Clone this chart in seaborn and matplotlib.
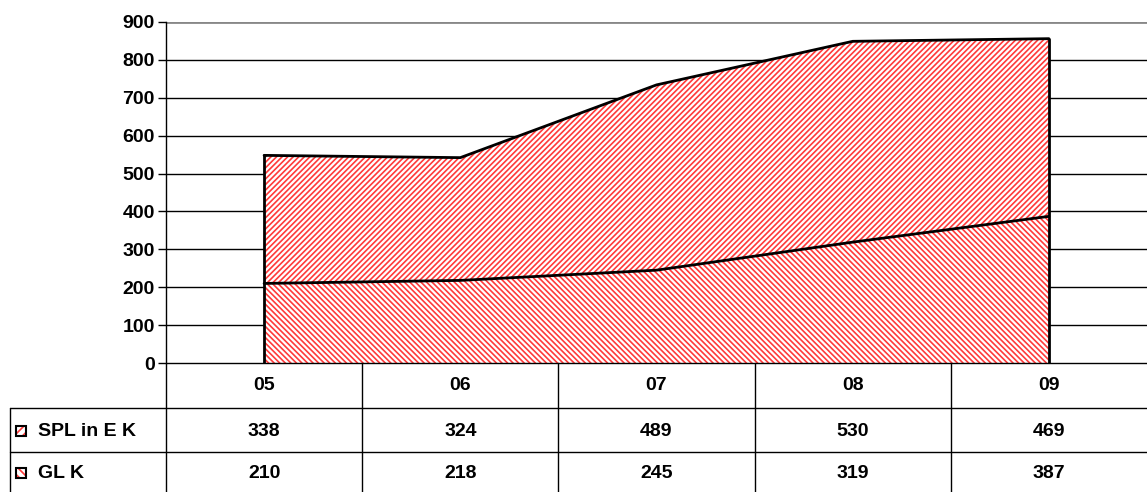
import numpy as np
import pandas as pd
import seaborn as sns
import matplotlib.pyplot as plt
from matplotlib.patches import Rectangle

years = ["05", "06", "07", "08", "09"]
spl_in_ek = [338, 324, 489, 530, 469]
gl_k = [210, 218, 245, 319, 387]
series_names = ["SPL in E K", "GL K"]

sns.set_style("white")
plt.rcParams['font.family'] = ['Liberation Sans', 'DejaVu Sans']
plt.rcParams['text.color'] = 'black'
plt.rcParams['ytick.color'] = 'black'
plt.rcParams['hatch.color'] = '#ff3a3a'
plt.rcParams['hatch.linewidth'] = 1.2

W, H = 1147, 492
fig = plt.figure(figsize=(W / 100, H / 100), dpi=100)
FS = 14
RED = '#ff3a3a'

# plot area in pixel coords
left, right, top, bottom = 166, 1147, 22, 363
ax = fig.add_axes([left / W, 1 - bottom / H, (right - left) / W, (bottom - top) / H])

x = np.arange(len(years)) + 0.5
gl = np.array(gl_k)
total = gl + np.array(spl_in_ek)

ax.fill_between(x, 0, gl, facecolor='white', edgecolor=RED, hatch='\\' * 6, linewidth=0)
ax.fill_between(x, gl, total, facecolor='white', edgecolor=RED, hatch='/' * 6, linewidth=0)

df = pd.DataFrame({"x": np.concatenate([x, x]),
                   "y": np.concatenate([gl, total]),
                   "s": ["GL K"] * 5 + ["SPL in E K"] * 5})
sns.lineplot(data=df, x="x", y="y", units="s", estimator=None, color="black",
             linewidth=2, ax=ax, legend=False)
ax.plot([x[0], x[0]], [0, total[0]], color='black', lw=2)
ax.plot([x[-1], x[-1]], [0, total[-1]], color='black', lw=2)

ax.set_xlim(0, 5)
ax.set_ylim(0, 900)
ax.set_yticks(range(0, 1000, 100))
ax.set_yticklabels([str(v) for v in range(0, 1000, 100)], fontsize=FS, fontweight='bold')
ax.set_xticks([])
ax.set_xlabel("")
ax.set_ylabel("")
for yv in range(100, 1000, 100):
    ax.axhline(yv, color='black' if yv < 900 else '#888888', lw=1 if yv < 900 else 2, zorder=0)
ax.axhline(0, color='black', lw=1, zorder=5, clip_on=False)
for s in ['top', 'right', 'bottom']:
    ax.spines[s].set_visible(False)
ax.spines['left'].set_color('black')
ax.spines['left'].set_linewidth(1)
ax.tick_params(axis='y', which='both', left=True, length=6, width=1, color='black', pad=2)


# table below the plot, drawn in pixel coordinates
def px(xp, yp):
    return xp / W, 1 - yp / H


def hline(x0, x1, yp):
    fig.add_artist(plt.Line2D([x0 / W, x1 / W], [1 - yp / H, 1 - yp / H],
                              color='black', lw=1, transform=fig.transFigure))


def vline(xp, y0, y1):
    fig.add_artist(plt.Line2D([xp / W, xp / W], [1 - y0 / H, 1 - y1 / H],
                              color='black', lw=1, transform=fig.transFigure))


col_w = (right - left) / 5
hline(10, right, 408)
hline(10, right, 452)
vline(10, 408, 492)
for i in range(5):
    vline(left + i * col_w, 363, 492)

for i, yr in enumerate(years):
    cx = left + (i + 0.5) * col_w
    fig.text(*px(cx, 386), yr, ha='center', va='center', fontsize=FS, fontweight='bold')
    fig.text(*px(cx, 431), str(spl_in_ek[i]), ha='center', va='center', fontsize=FS, fontweight='bold')
    fig.text(*px(cx, 473), str(gl_k[i]), ha='center', va='center', fontsize=FS, fontweight='bold')

for name, yc, hatch in [(series_names[0], 431, '////'), (series_names[1], 473, '\\\\\\\\')]:
    fig.add_artist(Rectangle(px(16, yc + 5), 10 / W, 10 / H, facecolor='white',
                             edgecolor=RED, hatch=hatch, lw=0, transform=fig.transFigure))
    fig.add_artist(Rectangle(px(16, yc + 5), 10 / W, 10 / H, fill=False,
                             edgecolor='black', lw=1.5, transform=fig.transFigure))
    fig.text(*px(38, yc), name, ha='left', va='center', fontsize=FS, fontweight='bold')

fig.savefig("out.png", dpi=100)
